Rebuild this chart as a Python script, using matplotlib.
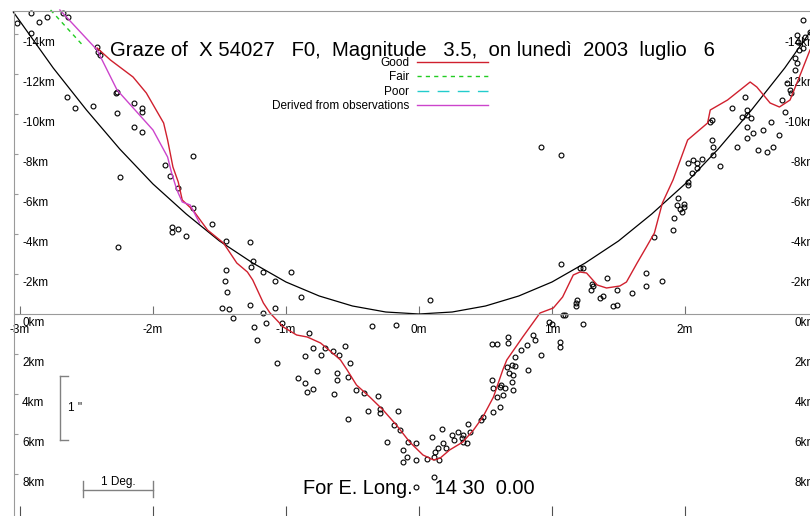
# Graze profile plot (X 54027)
import matplotlib.pyplot as plt
from matplotlib.lines import Line2D
from matplotlib.transforms import ScaledTranslation

# limit line (black curve), minutes vs km
limit_x = [-3.05, -2.75, -2.5, -2.25, -2.0, -1.75, -1.5, -1.25, -1.0, -0.75, -0.5, -0.25, 0.0,
           0.25, 0.5, 0.75, 1.0, 1.25, 1.5, 1.75, 2.0, 2.25, 2.5, 2.75, 2.94]
limit_y = [-15.1, -12.3, -10.2, -8.25, -6.5, -5.0, -3.65, -2.55, -1.6, -0.9, -0.4, -0.1, 0.0,
           -0.1, -0.4, -0.9, -1.6, -2.55, -3.65, -5.0, -6.5, -8.25, -10.2, -12.3, -14.1]

# "Good" profile (red)
good_x = [-2.42, -2.32, -2.15, -2.05, -1.92, -1.89, -1.85, -1.81, -1.78, -1.70, -1.59, -1.47,
          -1.37, -1.29, -1.25, -1.17, -1.12, -1.02, -0.92, -0.84, -0.74, -0.65, -0.59, -0.54,
          -0.47, -0.37, -0.27, -0.17, -0.07, 0.03, 0.11, 0.16, 0.23, 0.33, 0.41, 0.48, 0.56,
          0.63, 0.66, 0.78, 0.91, 1.01, 1.08, 1.16, 1.21, 1.26, 1.34, 1.41, 1.51, 1.56, 1.64,
          1.71, 1.77, 1.83, 1.91, 2.02, 2.17, 2.19, 2.32, 2.49, 2.54, 2.64, 2.71, 2.79, 2.86, 2.94]
good_y = [-13.3, -12.7, -11.85, -11.05, -9.55, -8.7, -7.35, -6.6, -5.7, -5.2, -4.2, -3.55,
          -2.55, -2.1, -1.7, -0.55, -0.05, 0.65, 1.05, 1.15, 1.45, 1.95, 2.3, 2.8,
          3.55, 4.15, 4.8, 5.55, 6.4, 7.05, 7.3, 7.2, 6.8, 6.4, 5.8, 5.15, 4.15,
          2.8, 2.3, 1.15, -0.05, -0.3, -0.85, -1.95, -2.1, -2.05, -1.45, -1.3, -1.4, -1.6, -2.55,
          -3.35, -4.05, -5.55, -6.7, -8.7, -9.55, -10.2, -10.7, -11.6, -11.35, -10.55, -10.35, -10.7, -11.85, -13.2]

# "Fair" (green dashed) and derived from observations (magenta)
fair_x = [-2.77, -2.53]
fair_y = [-15.2, -13.45]
derived_x = [-2.70, -2.42, -2.27, -2.0, -1.89, -1.86, -1.82, -1.78, -1.72, -1.65]
derived_y = [-15.2, -13.2, -11.2, -9.2, -7.85, -7.05, -6.2, -5.6, -5.45, -4.55]

# observations
obs_x = [-2.92, -3.02, -2.86, -2.80, -2.68, -2.64, -2.92, -2.42, -2.41, -2.40, -2.27, -2.28,
         -2.65, -2.59, -2.45, -2.27, -2.14, -2.08, -2.08, -2.14, -2.08, -1.70, -1.91, -1.87, -2.25,
         -2.26, -1.81, -1.70, -1.86, -1.86, -1.81, -1.75, -1.56, -1.45, -1.27, -1.25, -1.26, -1.17,
         -1.45, -1.46, -1.44, -1.48, -1.43, -1.27, -1.40, -1.17, -1.24, -1.15, -1.22,
         -0.96, -1.08, -0.89, -1.08, 0.08, -0.35, -0.17, -1.03, -0.83, -0.56, -0.65, -0.71, -0.60,
         -0.80, -0.86, -0.74, 0.55, 0.59, 0.67, 0.67, 0.77, 0.81, 0.87, 0.86, 0.72,
         -1.07, -0.91, -0.86, -0.77, -0.84, -0.80, -0.62, -0.62, -0.52, -0.53, -0.64, -0.47, -0.41,
         -0.31, -0.38, -0.29, -0.29, -0.16, -0.53, -0.19, -0.14, -0.24, -0.08, -0.02, -0.12, -0.09,
         -0.12, -0.02, 0.06, 0.11, 0.12, 0.14, 0.10, 0.17, 0.15, 0.11, -0.02, 0.18, 0.20, 0.26,
         0.25, 0.29, 0.32, 0.33, 0.33, 0.37, 0.38, 0.36, 0.48, 0.47, 0.55, 0.56, 0.56, 0.61, 0.59,
         0.61, 0.62, 0.65, 0.63, 0.66, 0.68, 0.70, 0.72, 0.71, 0.70, 0.71, 0.82,
         1.07, 1.21, 1.23, 1.41, 1.30, 1.31, 1.29, 1.38, 1.36, 1.49, 1.60, 1.46, 1.49, 1.19, 1.18,
         1.18, 1.08, 1.10, 1.23, 1.00, 0.98, 1.06, 1.06, 0.92, 1.71, 1.71, 1.83, 1.77, 1.91, 1.92,
         1.94, 1.96, 1.99, 1.98, 1.95, 1.99, 2.02, 2.02,
         2.02, 2.06, 2.09, 2.13, 2.09, 2.05, 2.26, 2.21, 2.21, 2.20, 2.20, 2.19, 2.35, 2.45, 2.47,
         2.43, 2.47, 2.50, 2.47, 2.51, 2.47, 2.39, 2.55, 2.62, 2.66, 2.59, 2.71, 2.65, 2.75, 2.80,
         2.79, 2.73, 2.77, 2.83, 2.84, 2.83, 2.86, 2.89, 2.85, 2.90, 2.94, 2.89, 2.84, 1.07, 0.92]
obs_y = [-15.05, -14.55, -14.6, -14.85, -15.05, -14.85, -14.05, -13.35, -13.1, -12.95, -11.1, -11.05,
         -10.85, -10.3, -10.4, -10.05, -10.55, -10.3, -10.1, -9.35, -9.1, -7.9, -7.45, -6.9, -6.85,
         -3.35, -6.3, -5.3, -4.35, -4.1, -4.25, -3.9, -4.5, -3.65, -3.6, -2.65, -2.35, -2.1,
         -2.2, -1.65, -1.1, -0.3, -0.25, -0.45, 0.2, -0.05, 0.65, 0.45, 1.3,
         -2.1, -1.65, -0.85, -0.3, -0.7, 0.6, 0.55, 0.45, 0.95, 1.6, 1.85, 1.7, 2.05,
         1.7, 2.1, 2.05, 1.5, 1.5, 1.15, 1.45, 1.8, 1.55, 1.3, 1.05, 2.15,
         2.45, 3.2, 3.45, 2.85, 3.9, 3.75, 2.95, 3.3, 2.45, 3.15, 4.0, 3.8, 3.95,
         4.1, 4.85, 4.75, 4.95, 4.85, 5.25, 5.55, 5.8, 6.4, 6.4, 6.45, 6.8, 7.15,
         7.4, 7.3, 7.25, 7.15, 6.9, 6.7, 6.15, 5.75, 7.3, 8.15, 8.65, 6.45, 6.7, 6.3,
         6.05, 5.9, 6.2, 6.05, 6.4, 5.5, 5.9, 6.45, 5.15, 5.3, 3.3, 3.7, 4.9, 4.65, 4.15,
         3.65, 3.55, 3.7, 4.05, 2.65, 2.95, 2.55, 2.6, 3.05, 3.4, 3.8, 2.8,
         -2.5, -2.3, -2.3, -1.8, -1.5, -1.4, -1.2, -0.9, -0.8, -1.2, -1.05, -0.4, -0.45, -0.7, -0.55,
         -0.4, 0.05, 0.05, 0.5, 0.5, 0.4, 1.4, 1.65, 2.05, -2.05, -1.4, -1.65, -3.85, -4.2, -4.8,
         -5.45, -5.25, -5.35, -5.1, -5.8, -5.5, -6.45, -6.6,
         -7.55, -7.7, -7.55, -7.75, -7.3, -7.05, -7.4, -7.95, -8.35, -8.7, -9.7, -9.6, -10.3, -10.85, -10.2,
         -9.85, -9.95, -9.8, -9.35, -9.05, -8.8, -8.35, -8.2, -8.1, -8.35, -9.2, -8.95, -9.6, -10.1, -11.05,
         -11.2, -10.7, -11.55, -12.2, -12.55, -12.8, -13.2, -13.3, -13.6, -13.85, -14.1, -14.7, -13.95, -7.95, -8.35]

x_ticks = [-3, -2, -1, 0, 1, 2]
x_labels = ['-3m', '-2m', '-1m', '0m', '1m', '2m']
km_ticks = list(range(-14, 9, 2))
km_labels = [f'{k}km' for k in km_ticks]

title = 'Graze of  X 54027   F0,  Magnitude   3.5,  on luned\u00ec  2003  luglio   6'
footer = 'For E. Long.    14 30  0.00'

plt.rcParams['font.family'] = ['Liberation Sans', 'DejaVu Sans']
gray = '#9a9a9a'

fig = plt.figure(figsize=(8.1, 5.16), dpi=100)
ax = fig.add_axes([14 / 810, 0, 1 - 14 / 810, 505 / 516])
ax.set_xlim(-3.045, 2.94)
ax.set_ylim(10.1, -15.15)

for s in ['top', 'left', 'bottom']:
    ax.spines[s].set_color(gray)
ax.spines['right'].set_visible(False)
ax.spines['bottom'].set_position(('data', 0))

ax.set_xticks(x_ticks, x_labels)
ax.tick_params(axis='x', direction='in', length=6, color='#707070', pad=7, labelsize=8.5)
ax.set_yticks(km_ticks, km_labels)
ax.tick_params(axis='y', direction='in', length=3, color=gray, pad=-5.8, labelsize=8.5)

# right-hand km labels (cut off by the image edge, as in the original)
sec_y = ax.secondary_yaxis('right')
sec_y.set_yticks(km_ticks, km_labels)
sec_y.tick_params(length=0, pad=5, labelsize=8.5)
sec_y.spines['right'].set_visible(False)

shift = ScaledTranslation(0, -3 / 100, fig.dpi_scale_trans)
for lab in ax.get_yticklabels():
    lab.set_horizontalalignment('left')
    lab.set_verticalalignment('top')
    lab.set_transform(lab.get_transform() + shift)
for lab in sec_y.get_yticklabels():
    lab.set_horizontalalignment('right')
    lab.set_verticalalignment('top')
    lab.set_transform(lab.get_transform() + shift)

# small ticks along the bottom edge
sec_x = ax.secondary_xaxis(0.0)
sec_x.set_xticks(x_ticks)
sec_x.tick_params(direction='in', length=7, color='#505050', labelbottom=False)
sec_x.spines['bottom'].set_visible(False)

ax.plot(limit_x, limit_y, color='black', lw=0.9, clip_on=False)
ax.plot(obs_x, obs_y, 'o', mfc='none', mec='black', ms=3.5, mew=0.8, clip_on=False)
l_good, = ax.plot(good_x, good_y, color='#d0202e', lw=1, label='Good', clip_on=False)
l_fair, = ax.plot(fair_x, fair_y, color='#22cc22', lw=1, ls=(0, (3, 3)), label='Fair', clip_on=False)
l_poor, = ax.plot([], [], color='#22cccc', lw=1, ls=(0, (8.5, 6)), label='Poor')
l_der, = ax.plot(derived_x, derived_y, color='#cc44cc', lw=1, label='Derived from observations', clip_on=False)

ax.legend(handles=[l_good, l_fair, l_poor, l_der], loc='upper right',
          bbox_to_anchor=(488 / 810, 1 - 57 / 516), bbox_transform=fig.transFigure,
          frameon=False, markerfirst=False, fontsize=8.5, handlelength=6.0,
          handletextpad=0.7, labelspacing=0.2, borderpad=0, borderaxespad=0)

fig.text(110 / 810, 1 - 50 / 516, title, fontsize=14.6, va='center', ha='left')
fig.text(303 / 810, 1 - 488 / 516, footer, fontsize=14.4, va='center', ha='left')

# scale bars
def fx(px):
    return px / 810

def fy(py):
    return 1 - py / 516

for xs, ys in [([83, 153], [490, 490]), ([83, 83], [481, 497]), ([153, 153], [481, 497]),
               ([60, 60], [376, 440]), ([60, 68], [376, 376]), ([60, 68], [440, 440])]:
    fig.add_artist(Line2D([fx(v) for v in xs], [fy(v) for v in ys], color='#808080', lw=1))
fig.text(fx(118), fy(482), '1 Deg.', fontsize=8.5, ha='center', va='center')
fig.text(fx(68), fy(408), "1 ''", fontsize=8.5, ha='left', va='center')

fig.savefig('out.png', dpi=100)
